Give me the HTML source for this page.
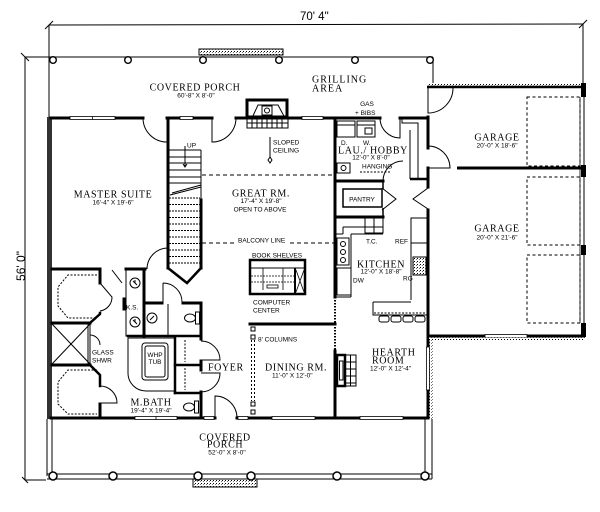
<!DOCTYPE html>
<html><head><meta charset="utf-8">
<style>
html,body{margin:0;padding:0;background:#fff;}
svg{display:block;}
.t{font-family:"Liberation Serif",serif;font-size:10px;letter-spacing:0.6px;fill:#000;}
.d{font-family:"Liberation Sans",sans-serif;font-size:6.5px;fill:#000;}
.s{font-family:"Liberation Sans",sans-serif;font-size:6.5px;fill:#000;}
</style></head><body>
<svg width="600" height="512" viewBox="0 0 600 512" xmlns="http://www.w3.org/2000/svg">
<defs>
<pattern id="hp" width="3" height="3" patternUnits="userSpaceOnUse"><rect width="3" height="3" fill="#fff"/><rect width="1" height="1" fill="#000"/><rect x="2" y="1" width="1" height="1" fill="#777"/></pattern>
</defs>
<rect width="600" height="512" fill="#fff"/>

<!-- dimension & porch outline lines -->
<g stroke="#000" fill="none" stroke-width="1">
 <line x1="49" y1="25" x2="583" y2="24"/>
 <line x1="45" y1="29" x2="53" y2="21"/>
 <line x1="579" y1="28" x2="587" y2="20"/>
 <line x1="25" y1="57" x2="25" y2="480"/>
 <line x1="21" y1="53" x2="29" y2="61"/>
 <line x1="22" y1="477" x2="28" y2="483"/>
 <line x1="25" y1="480" x2="46" y2="480"/>
 <line x1="49" y1="25" x2="49" y2="117"/>
 <line x1="583" y1="24" x2="583" y2="84"/>
 <line x1="25" y1="57" x2="433" y2="57"/>
 <line x1="433" y1="57" x2="433" y2="86"/>
</g>
<text x="300" y="20" font-family="Liberation Sans, sans-serif" font-size="11.5">70'  4"</text>
<text transform="translate(25,266) rotate(-90)" text-anchor="middle" font-family="Liberation Sans, sans-serif" font-size="12">56'  0"</text>

<!-- top step -->
<rect x="199" y="49" width="84" height="6" fill="url(#hp)" stroke="#000" stroke-width="1"/>
<!-- top columns -->
<g fill="#fff" stroke="#000" stroke-width="1.4">
 <circle cx="53" cy="60" r="3.3"/><circle cx="128" cy="60" r="3.3"/><circle cx="203" cy="60" r="3.3"/>
 <circle cx="279" cy="60" r="3.3"/><circle cx="355" cy="60" r="3.3"/><circle cx="430" cy="60" r="3.3"/>
</g>

<!-- chimney -->
<rect x="247" y="100" width="40" height="17" fill="#fff" stroke="#000" stroke-width="3"/>
<g stroke="#000" fill="none" stroke-width="1">
 <path d="M252 118 L258 105 L278 105 L285 118"/>
 <rect x="262" y="106" width="10" height="9"/>
 <circle cx="267" cy="110.5" r="2.5"/>
 <rect x="247" y="118" width="41" height="10"/>
 <line x1="247" y1="123" x2="288" y2="123"/>
 <line x1="252" y1="118" x2="252" y2="128"/><line x1="257" y1="118" x2="257" y2="128"/>
 <line x1="262" y1="118" x2="262" y2="128"/><line x1="267" y1="118" x2="267" y2="128"/>
 <line x1="272" y1="118" x2="272" y2="128"/><line x1="277" y1="118" x2="277" y2="128"/>
 <line x1="282" y1="118" x2="282" y2="128"/>
</g>

<!-- exterior walls -->
<rect x="47" y="117" width="5" height="302" fill="#333"/>
<g stroke="#000" stroke-width="3" stroke-linecap="square" fill="none">
 <line x1="51" y1="118" x2="70" y2="118"/>
 <line x1="115" y1="118" x2="143" y2="118"/>
 <line x1="167" y1="118" x2="180" y2="118"/>
 <line x1="193" y1="118" x2="212" y2="118"/>
 <line x1="236" y1="118" x2="302" y2="118"/>
 <line x1="323" y1="118" x2="380" y2="118"/>
 <line x1="400" y1="118" x2="428" y2="118"/>
 <line x1="428" y1="117" x2="428" y2="148"/>
 <line x1="428" y1="168" x2="428" y2="187"/>
 <line x1="428" y1="210" x2="428" y2="347"/>
 <line x1="428" y1="390" x2="428" y2="418"/>
 <line x1="51" y1="418" x2="135" y2="418"/>
 <line x1="177" y1="418" x2="204" y2="418"/>
 <line x1="214" y1="418" x2="215" y2="418"/>
 <line x1="237" y1="418" x2="238" y2="418"/>
 <line x1="248" y1="418" x2="272" y2="418"/>
 <line x1="315" y1="418" x2="360" y2="418"/>
 <line x1="403" y1="418" x2="428" y2="418"/>
</g>
<rect x="429.5" y="336" width="3" height="83" fill="url(#hp)"/>
<!-- windows -->
<g fill="#fff" stroke="#000" stroke-width="0.8">
 <rect x="70" y="116.5" width="45" height="3"/><line x1="92.5" y1="116.5" x2="92.5" y2="119.5"/>
 <rect x="180" y="116.5" width="13" height="3"/>
 <rect x="302" y="116.5" width="21" height="3"/>
 <rect x="426.5" y="347" width="3" height="43"/>
 <rect x="135" y="416.5" width="42" height="3"/><line x1="156" y1="416.5" x2="156" y2="419.5"/>
 <rect x="204" y="416.5" width="10" height="3"/>
 <rect x="238" y="416.5" width="10" height="3"/>
 <rect x="272" y="416.5" width="43" height="3"/>
 <rect x="360" y="416.5" width="43" height="3"/>
</g>

<!-- interior main walls -->
<g stroke="#000" stroke-width="3" stroke-linecap="square" fill="none">
 <line x1="168" y1="118" x2="168" y2="268"/>
 <line x1="201" y1="200" x2="201" y2="268"/>
 <line x1="335" y1="118" x2="335" y2="297"/>
 <line x1="335" y1="351" x2="335" y2="418"/>
 <line x1="250" y1="324" x2="335" y2="324"/>
 <line x1="52" y1="269" x2="100" y2="269"/>
 <line x1="126" y1="269" x2="145" y2="269"/>
 <line x1="100" y1="269" x2="100" y2="283"/>
 <line x1="52" y1="323" x2="90" y2="323"/>
 <line x1="52" y1="365" x2="90" y2="365"/>
 <line x1="100" y1="404" x2="100" y2="418"/>
 <line x1="144" y1="269" x2="144" y2="336"/>
 <line x1="145" y1="303" x2="162" y2="303"/>
 <line x1="183" y1="303" x2="201" y2="303"/>
 <line x1="201" y1="303" x2="201" y2="339"/>
 <line x1="201" y1="361" x2="201" y2="370"/>
 <line x1="201" y1="392" x2="201" y2="418"/>
 <line x1="335" y1="181" x2="383" y2="181"/>
 <line x1="335" y1="217" x2="383" y2="217"/>
</g>
<g stroke="#000" stroke-width="2.5" stroke-linecap="square" fill="none">
 <polyline points="100,313 100,314 90,323"/>
 <polyline points="90,365 100,375 100,386"/>
 <line x1="128" y1="336" x2="201" y2="336"/>
 <line x1="175" y1="337" x2="175" y2="393"/>
 <line x1="175" y1="365" x2="201" y2="365"/>
 <line x1="175" y1="393" x2="201" y2="393"/>
 <polyline points="168,268 187,283 201,268"/>
</g>
<line x1="335" y1="297" x2="335" y2="351" stroke="#000" stroke-width="2" stroke-dasharray="1.5 1.5"/>

<!-- stairs -->
<g stroke="#000" stroke-width="1" fill="none">
 <line x1="201" y1="150" x2="201" y2="200"/>
 <line x1="169" y1="150" x2="201" y2="150"/>
 <line x1="169" y1="157" x2="201" y2="157"/>
 <line x1="169" y1="163" x2="201" y2="163"/>
 <line x1="169" y1="170" x2="201" y2="170"/>
 <line x1="169" y1="177" x2="201" y2="177"/>
 <line x1="169" y1="183" x2="201" y2="183"/>
 <line x1="170" y1="195" x2="201" y2="187"/>
 <line x1="172" y1="193" x2="201" y2="185"/>
 <g stroke-dasharray="2 1">
  <line x1="169" y1="198" x2="200" y2="198"/><line x1="169" y1="204.5" x2="200" y2="204.5"/>
  <line x1="169" y1="211" x2="200" y2="211"/><line x1="169" y1="217.5" x2="200" y2="217.5"/>
  <line x1="169" y1="224" x2="200" y2="224"/><line x1="169" y1="230.5" x2="200" y2="230.5"/>
  <line x1="169" y1="237" x2="200" y2="237"/><line x1="169" y1="243.5" x2="200" y2="243.5"/>
  <line x1="169" y1="250" x2="200" y2="250"/><line x1="169" y1="256.5" x2="200" y2="256.5"/>
  <line x1="169" y1="263" x2="200" y2="263"/>
 </g>
 <line x1="185" y1="146" x2="185" y2="167"/>
 <path d="M183 164 L185 167 L187 164"/>
 <line x1="270" y1="137" x2="270" y2="158"/>
 <path d="M270 157 L272 160 L270 163 L268 160 Z"/>
 <line x1="202" y1="175" x2="334" y2="175" stroke-dasharray="4 3"/>
 <line x1="202" y1="243" x2="237" y2="243" stroke-dasharray="4 3"/>
 <line x1="290" y1="243" x2="334" y2="243" stroke-dasharray="4 3"/>
</g>

<!-- doors -->
<g stroke="#000" stroke-width="1" fill="none">
 <path d="M167 118 L167 142 A24 24 0 0 1 143 118"/>
 <path d="M212 118 L212 142 A24 24 0 0 0 236 118"/>
 <path d="M400 118 L400 138 A20 20 0 0 1 380 118"/>
 <path d="M383 181 A20 20 0 0 1 403 161"/>
 <path d="M147 269 A21 21 0 0 1 168 248"/>
 <path d="M163 283 L163 303 M163 283 A19 19 0 0 1 182 302"/>
 <path d="M112 270 L122 283"/>
 <path d="M100 283 L112 297 A14 14 0 0 1 100 311"/>
 <path d="M100 386 A17 17 0 0 1 117 403 L100 403"/>
 <path d="M90 335 A10 10 0 0 1 100 345"/>
 <path d="M201 341 A19 19 0 0 1 220 360 L201 360"/>
 <path d="M201 373 L220 373 A19 19 0 0 1 201 392"/>
 <path d="M215 418 L215 396 A22 22 0 0 1 237 418"/>
 <path d="M382 188 L396 199 L382 210"/>
 <path d="M428 188 L413 199 L428 209"/>
 <path d="M428 88 L428 113 A25 25 0 0 0 453 88"/>
 <path d="M428 146 A22 22 0 0 1 450 168 L428 168"/>
</g>

<!-- master closets & shower -->
<g stroke="#000" stroke-width="1" fill="none">
 <polyline points="97,275 68,275 58,287 58,306 68,318 97,318" stroke-dasharray="2 1.5"/>
 <polyline points="97,370 68,370 58,382 58,404 68,414 97,414" stroke-dasharray="2 1.5"/>
 <line x1="52" y1="324" x2="90" y2="364"/>
 <line x1="90" y1="324" x2="52" y2="364"/>
 <line x1="90" y1="324" x2="90" y2="365"/>
 <line x1="88" y1="324" x2="88" y2="365"/>
 <rect x="126" y="270" width="17" height="66"/>
 <circle cx="135" cy="283" r="5"/><circle cx="135" cy="322" r="5"/>
 <path d="M133 281 L137 285 M135 280 L135 283"/>
 <path d="M133 320 L137 324 M135 319 L135 322"/>
 <rect x="123" y="298" width="2" height="12" fill="#000"/>
 <circle cx="152" cy="318" r="5"/>
 <line x1="150" y1="320" x2="154" y2="316"/>
 <line x1="168" y1="304" x2="168" y2="335"/>
 <ellipse cx="190" cy="318" rx="5.5" ry="4"/>
 <rect x="195.5" y="312" width="4" height="12"/>
 <ellipse cx="189" cy="407" rx="5.5" ry="4"/>
 <rect x="194.5" y="401" width="4" height="12"/>
 <path d="M128 338 L175 338 L175 391 L146 391 A18 18 0 0 1 128 373 Z"/>
 <rect x="142" y="343" width="26" height="37" rx="3"/>
 <rect x="145" y="346" width="20" height="31" rx="2"/>
 <line x1="185" y1="340" x2="185" y2="362" stroke-dasharray="2 1.5"/>
 <line x1="185" y1="368" x2="185" y2="390" stroke-dasharray="2 1.5"/>
</g>

<!-- dining columns -->
<g stroke="#000" stroke-width="1" fill="#fff">
 <rect x="251" y="327" width="4" height="4"/><rect x="251" y="335" width="4" height="4"/>
 <rect x="251" y="402" width="4" height="4"/><rect x="251" y="410" width="4" height="4"/>
</g>
<g stroke="#000" stroke-width="1" stroke-dasharray="2 2">
 <line x1="251.5" y1="340" x2="251.5" y2="401"/>
 <line x1="254.5" y1="340" x2="254.5" y2="401"/>
</g>

<!-- book shelves / computer -->
<g stroke="#000" fill="none">
 <rect x="250" y="260" width="55" height="34" stroke-width="2.5"/>
 <line x1="251" y1="268" x2="304" y2="268" stroke-width="1"/>
 <line x1="295" y1="268" x2="295" y2="294" stroke-width="2"/>
 <line x1="296" y1="270" x2="304" y2="292" stroke-width="0.8"/>
 <line x1="304" y1="270" x2="296" y2="292" stroke-width="0.8"/>
 <line x1="251" y1="276" x2="294" y2="276" stroke-width="0.8" stroke-dasharray="2 1"/>
 <line x1="251" y1="282" x2="294" y2="282" stroke-width="0.8" stroke-dasharray="2 1"/>
 <line x1="263" y1="268" x2="263" y2="290" stroke-width="0.8"/>
 <line x1="283" y1="268" x2="283" y2="290" stroke-width="0.8"/>
 <rect x="267" y="285" width="11" height="3" stroke-width="0.8"/>
</g>

<!-- laundry / pantry / kitchen -->
<g stroke="#000" stroke-width="1" fill="none">
 <rect x="337" y="121" width="18" height="16"/>
 <rect x="357" y="121" width="18" height="16"/>
 <line x1="337" y1="125" x2="355" y2="125"/>
 <line x1="357" y1="125" x2="375" y2="125"/>
 <rect x="365" y="128" width="7" height="6"/>
 <rect x="337" y="163" width="13" height="10"/>
 <circle cx="343.5" cy="168" r="2.5"/>
 <line x1="360" y1="172" x2="390" y2="172" stroke-dasharray="2 1.5"/>
 <path d="M402 118 L402 123 L418 123 L418 178"/>
 <line x1="410" y1="130" x2="410" y2="179"/>
 <line x1="410" y1="179" x2="428" y2="179" stroke-width="2.5"/>
 <rect x="343" y="189" width="39" height="18" stroke-width="1.5"/>
 <line x1="383" y1="181" x2="383" y2="189" stroke-width="1.5"/>
 <line x1="383" y1="208" x2="383" y2="217" stroke-width="1.5"/>
 <path d="M343 227 L383 227 M351 234 L383 234 M343 227 L343 234 M336 234 L343 234 M351 234 L351 297 M336 297 L351 297"/>
 <rect x="365" y="218" width="18" height="15"/>
 <line x1="374" y1="218" x2="374" y2="233"/>
 <rect x="337" y="238" width="12" height="27"/>
 <circle cx="343" cy="244" r="2.5"/><circle cx="343" cy="252" r="2.5"/><circle cx="343" cy="260" r="2.5"/>
 <rect x="337" y="268" width="14" height="27"/>
 <line x1="411" y1="218" x2="411" y2="300"/>
 <line x1="411" y1="218" x2="427" y2="218"/>
 <rect x="411" y="218" width="16" height="25"/>
 <rect x="413" y="257" width="13" height="18" fill="url(#hp)"/>
 <path d="M373 302 L411 302 M373 302 L373 315 L427 315"/>
 <line x1="374" y1="313" x2="426" y2="313" stroke-dasharray="2 1.5"/>
 <rect x="379" y="316" width="10" height="6" rx="2"/>
 <rect x="391" y="316" width="10" height="6" rx="2"/>
 <rect x="403" y="316" width="10" height="6" rx="2"/>
 <rect x="415" y="316" width="10" height="6" rx="2"/>
 <rect x="337" y="355" width="8" height="31" stroke-width="2.5" fill="#fff"/>
 <rect x="339.5" y="361" width="3.5" height="19"/>
 <rect x="345" y="355" width="11" height="31"/>
 <line x1="350.5" y1="355" x2="350.5" y2="386"/>
 <line x1="345" y1="362" x2="356" y2="362"/><line x1="345" y1="369" x2="356" y2="369"/>
 <line x1="345" y1="376" x2="356" y2="376"/><line x1="345" y1="383" x2="356" y2="383"/>
</g>

<!-- garage -->
<rect x="427" y="83" width="158" height="2.5" fill="url(#hp)"/>
<line x1="427" y1="87" x2="585" y2="87" stroke="#000" stroke-width="2.5"/>
<line x1="584" y1="83" x2="584" y2="337" stroke="#000" stroke-width="1"/>
<line x1="580" y1="97" x2="580" y2="323" stroke="#000" stroke-width="0.8"/>
<g fill="#000">
 <rect x="581" y="83" width="5" height="14"/>
 <rect x="581" y="165" width="5" height="12"/>
 <rect x="581" y="245" width="5" height="10"/>
 <rect x="581" y="323" width="5" height="14"/>
</g>
<line x1="457" y1="168" x2="583" y2="168" stroke="#000" stroke-width="3"/>
<line x1="428" y1="336" x2="485" y2="336" stroke="#000" stroke-width="3"/>
<line x1="527" y1="336" x2="585" y2="336" stroke="#000" stroke-width="3"/>
<rect x="485" y="334.5" width="42" height="3" fill="#fff" stroke="#000" stroke-width="0.8"/>
<rect x="429" y="337.5" width="156" height="2.5" fill="url(#hp)"/>
<g stroke="#000" stroke-width="1" fill="none" stroke-dasharray="3 2.5">
 <rect x="527" y="97" width="53" height="69"/>
 <rect x="527" y="177" width="53" height="68"/>
 <rect x="527" y="255" width="53" height="68"/>
</g>

<!-- bottom porch -->
<g stroke="#000" stroke-width="1" fill="none">
 <line x1="47" y1="419" x2="47" y2="476"/>
 <line x1="52" y1="419" x2="52" y2="476"/>
 <line x1="425" y1="419" x2="425" y2="476"/>
 <line x1="432" y1="419" x2="432" y2="479"/>
 <line x1="47" y1="474" x2="432" y2="474"/>
 <line x1="47" y1="479" x2="432" y2="479"/>
</g>
<rect x="193" y="479" width="64" height="8" fill="url(#hp)" stroke="#000" stroke-width="1"/>
<g fill="#fff" stroke="#000" stroke-width="1.5">
 <circle cx="53" cy="476" r="4"/><circle cx="113" cy="476" r="4"/><circle cx="198" cy="476" r="4"/>
 <circle cx="251" cy="476" r="4"/><circle cx="337" cy="476" r="4"/><circle cx="425" cy="476" r="4"/>
</g>

<!-- labels -->
<text class="t" x="195" y="90.5" text-anchor="middle">COVERED PORCH</text>
<text class="d" x="196" y="97.5" text-anchor="middle">60'-8" X 8'-0"</text>
<text class="t" x="312" y="82.5" style="letter-spacing:1px">GRILLING</text>
<text class="t" x="312" y="91.5" style="letter-spacing:1px">AREA</text>
<text class="d" x="367" y="106" text-anchor="middle" font-size="6">GAS</text>
<text class="d" x="355" y="115" font-size="6">+ BIBS</text>
<text class="t" x="113" y="197.5" text-anchor="middle">MASTER SUITE</text>
<text class="d" x="113" y="204.5" text-anchor="middle">16'-4" X 19'-6"</text>
<text class="t" x="261" y="196.5" text-anchor="middle">GREAT RM.</text>
<text class="d" x="261" y="203" text-anchor="middle">17'-4" X 19'-8"</text>
<text class="s" x="260" y="211.5" text-anchor="middle" font-size="7">OPEN TO ABOVE</text>
<text class="s" x="273" y="144.5">SLOPED</text>
<text class="s" x="273" y="152.5">CEILING</text>
<text class="s" x="187" y="147.5">UP</text>
<text class="s" x="238" y="242.5">BALCONY LINE</text>
<text class="s" x="252" y="257.5">BOOK SHELVES</text>
<text class="s" x="253" y="304.5">COMPUTER</text>
<text class="s" x="253" y="312.5">CENTER</text>
<text class="s" x="258" y="341.5">8' COLUMNS</text>
<text class="t" x="373" y="153.5" text-anchor="middle">LAU./ HOBBY</text>
<text class="d" x="371" y="159.5" text-anchor="middle">12'-0" X 8'-0"</text>
<text class="s" x="341" y="145" font-size="6">D.</text>
<text class="s" x="363" y="145" font-size="6">W.</text>
<text class="s" x="362" y="168.5" font-size="6">HANGING</text>
<text class="s" x="362" y="201.5" text-anchor="middle">PANTRY</text>
<text class="s" x="366" y="243.5">T.C.</text>
<text class="s" x="395" y="243.5">REF</text>
<text class="t" x="381" y="267.5" text-anchor="middle">KITCHEN</text>
<text class="d" x="381" y="273.5" text-anchor="middle">12'-0" X 18'-8"</text>
<text class="s" x="403" y="280.5" font-size="6">RG</text>
<text class="s" x="353" y="282.5" font-size="6">DW</text>
<text class="t" x="497" y="140.5" text-anchor="middle">GARAGE</text>
<text class="d" x="497" y="147.5" text-anchor="middle">20'-0" X 18'-6"</text>
<text class="t" x="497" y="231.5" text-anchor="middle">GARAGE</text>
<text class="d" x="497" y="239.5" text-anchor="middle">20'-0" X 21'-6"</text>
<text class="t" x="372" y="355.5">HEARTH</text>
<text class="t" x="372" y="363.5">ROOM</text>
<text class="d" x="370" y="370.5">12'-0" X 12'-4"</text>
<text class="t" x="265" y="370.5">DINING RM.</text>
<text class="d" x="272" y="377.5">11'-0" X 12'-0"</text>
<text class="t" x="208" y="370.5">FOYER</text>
<text class="t" x="151" y="405.5" text-anchor="middle">M.BATH</text>
<text class="d" x="151" y="412.5" text-anchor="middle">19'-4" X 19'-4"</text>
<text class="s" x="92" y="354.5" font-size="6">GLASS</text>
<text class="s" x="92" y="362.5" font-size="6">SHWR</text>
<text class="s" x="126" y="309.5" font-size="6">K.S.</text>
<text class="s" x="155" y="357" text-anchor="middle" font-size="6">WHP</text>
<text class="s" x="155" y="364" text-anchor="middle" font-size="6">TUB</text>
<text class="t" x="225" y="440.5" text-anchor="middle">COVERED</text>
<text class="t" x="225" y="447.5" text-anchor="middle">PORCH</text>
<text class="d" x="227" y="454.5" text-anchor="middle">52'-0" X 8'-0"</text>
</svg>
</body></html>
